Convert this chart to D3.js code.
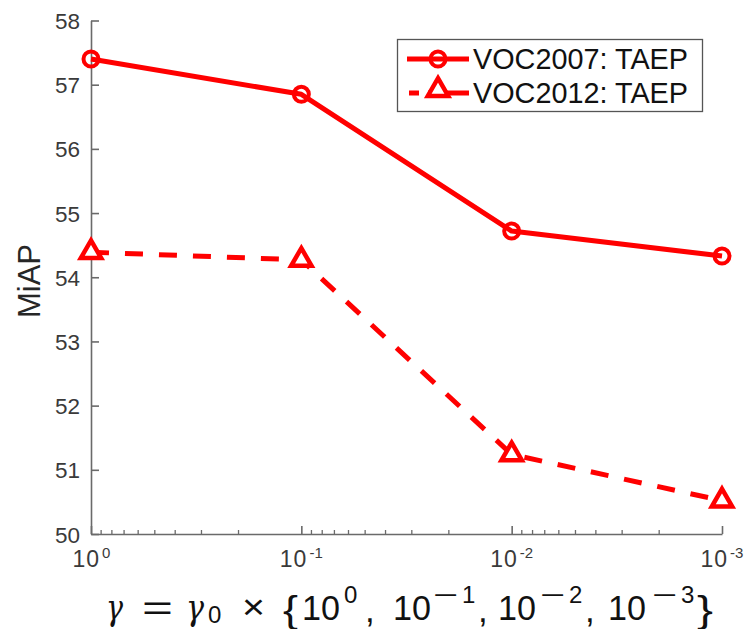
<!DOCTYPE html>
<html>
<head>
<meta charset="utf-8">
<script src="https://cdn.jsdelivr.net/npm/d3@7"></script>
<style>
  html, body { margin: 0; padding: 0; background: #fff; }
  svg { display: block; }
  text { font-family: "Liberation Sans", Arial, Helvetica, sans-serif; }
</style>
</head>
<body>
<svg id="chart" width="744" height="629"></svg>
<script>
// ---- data ----
const gammaFactors = [1, 0.1, 0.01, 0.001];
const tickExponents = ["0", "-1", "-2", "-3"];
const yTicks = [50, 51, 52, 53, 54, 55, 56, 57, 58];
const voc2007 = [57.40, 56.85, 54.72, 54.33];
const voc2012 = [54.39, 54.27, 51.24, 50.52];
const seriesNames = ["VOC2007: TAEP", "VOC2012: TAEP"];
const yLabel = "MiAP";
const formulaExponents = ["0", "1", "2", "3"];

const svg = d3.select("#chart");
const red = "#ff0000";
const axisColor = "#6a6a6a";
const labelColor = "#3a3a3a";

const x = d3.scaleLog().domain([1, 0.001]).range([91, 722]);
const y = d3.scaleLinear().domain([50, 58]).range([534, 20.5]);

// ---- y axis ----
const yAxis = svg.append("g").attr("transform", "translate(91,0)")
  .call(d3.axisLeft(y).tickValues(yTicks).tickSizeInner(-8).tickSizeOuter(0).tickPadding(11));
yAxis.select(".domain").attr("stroke", axisColor).attr("stroke-width", 1.6);
yAxis.selectAll(".tick line").attr("stroke", axisColor).attr("stroke-width", 1.6);
yAxis.selectAll(".tick text").attr("fill", labelColor)
  .style("font-size", "22.5px").attr("dy", "0.36em");

// ---- x axis: minor ticks ----
const minorVals = [];
for (let k = 0; k < 3; k++) {
  for (let m = 2; m <= 9; m++) minorVals.push(m * Math.pow(10, -(k + 1)));
}
const xMinor = svg.append("g").attr("transform", "translate(0,534)")
  .call(d3.axisBottom(x).tickValues(minorVals).tickSizeInner(-4).tickSizeOuter(0).tickFormat(""));
xMinor.select(".domain").remove();
xMinor.selectAll(".tick line").attr("stroke", axisColor).attr("stroke-width", 1.3);

// ---- x axis: major ----
const xAxis = svg.append("g").attr("transform", "translate(0,534)")
  .call(d3.axisBottom(x).tickValues(gammaFactors).tickSizeInner(-8).tickSizeOuter(0).tickFormat(() => ""));
xAxis.select(".domain").attr("stroke", axisColor).attr("stroke-width", 1.6);
xAxis.selectAll(".tick line").attr("stroke", axisColor).attr("stroke-width", 1.6);
xAxis.selectAll(".tick").each(function(d, i) {
  const t = d3.select(this).select("text")
    .attr("fill", labelColor).attr("y", 33).attr("dy", null)
    .attr("text-anchor", "start").attr("x", i === 0 ? -19 : -22);
  t.text(null);
  t.append("tspan").style("font-size", "23px").attr("letter-spacing", "1px").text("10");
  t.append("tspan").style("font-size", "15px").attr("dx", 2).attr("dy", -9).text(tickExponents[i]);
});

// ---- y label ----
svg.append("text")
  .attr("transform", "translate(40,281) rotate(-90)")
  .attr("text-anchor", "middle")
  .attr("fill", "#262626")
  .style("font-size", "31px")
  .text(yLabel);

// ---- lines ----
const lineGen = d3.line().x((d, i) => x(gammaFactors[i])).y(d => y(d));
svg.append("path").datum(voc2007)
  .attr("d", lineGen).attr("fill", "none").attr("stroke", red)
  .attr("stroke-width", 5).attr("stroke-linejoin", "round");
svg.append("path").datum(voc2012)
  .attr("d", lineGen).attr("fill", "none").attr("stroke", red)
  .attr("stroke-width", 5).attr("stroke-dasharray", "18,16");

// ---- markers ----
svg.selectAll("circle.m07").data(voc2007).enter().append("circle")
  .attr("class", "m07")
  .attr("cx", (d, i) => x(gammaFactors[i])).attr("cy", d => y(d))
  .attr("r", 7.5).attr("fill", "none").attr("stroke", red).attr("stroke-width", 4);

const tri = d3.symbol().type(d3.symbolTriangle).size(180);
svg.selectAll("path.m12").data(voc2012).enter().append("path")
  .attr("class", "m12")
  .attr("d", tri())
  .attr("transform", (d, i) => `translate(${x(gammaFactors[i])},${y(d)})`)
  .attr("fill", "#fff").attr("stroke", red).attr("stroke-width", 4.5).attr("stroke-linejoin", "miter");

// ---- legend ----
const lg = svg.append("g");
lg.append("rect").attr("x", 397.5).attr("y", 39.5).attr("width", 305).attr("height", 72)
  .attr("fill", "#fff").attr("stroke", "#555").attr("stroke-width", 1.3);
lg.append("line").attr("x1", 407).attr("x2", 469).attr("y1", 59).attr("y2", 59)
  .attr("stroke", red).attr("stroke-width", 5);
lg.append("circle").attr("cx", 438).attr("cy", 59).attr("r", 7.5)
  .attr("fill", "none").attr("stroke", red).attr("stroke-width", 4);
lg.append("line").attr("x1", 409).attr("x2", 469).attr("y1", 93).attr("y2", 93)
  .attr("stroke", red).attr("stroke-width", 5).attr("stroke-dasharray", "10,9,41");
lg.append("path").attr("d", tri()).attr("transform", "translate(438,90)")
  .attr("fill", "#fff").attr("stroke", red).attr("stroke-width", 4.5);
lg.selectAll("text.lt").data(seriesNames).enter().append("text")
  .attr("class", "lt")
  .attr("x", 473).attr("y", (d, i) => 59 + i * 34).attr("dy", "0.36em")
  .attr("fill", "#111").style("font-size", "28.8px").text(d => d);

// ---- x label (formula) ----
const fg = svg.append("g").attr("fill", "#111");
const serifIt = "'DejaVu Serif','Liberation Serif',serif";
function piece(str, px, py, size, opts) {
  const t = fg.append("text").attr("x", px).attr("y", py).style("font-size", size + "px").text(str);
  if (opts && opts.italic) t.style("font-family", serifIt).style("font-style", "italic");
  if (opts && opts.len) t.attr("textLength", opts.len).attr("lengthAdjust", "spacingAndGlyphs");
  return t;
}
const base = 620, supBase = 603;
piece("γ", 106, base, 35, { italic: true, len: 17 });
piece("=", 142, base, 35, { len: 31 });
piece("γ", 186, base, 35, { italic: true, len: 18 });
piece("0", 208, base + 3, 24);
piece("×", 242, base - 1, 35, { len: 23 });
piece("{", 283, base + 2, 36, { len: 15 });
const tenX = [302, 393, 498, 608];
const supX = [343, 433, 540, 652];
formulaExponents.forEach((e, i) => {
  piece("10", tenX[i], base, 35, { len: 38 });
  if (i === 0) {
    piece(e, supX[i] + 1, supBase, 24);
  } else {
    piece("−", supX[i], supBase, 24, { len: 25 });
    piece(e, supX[i] + 29, supBase, 24);
  }
  if (i < 3) piece(",", supX[i] + (i === 0 ? 22 : 45), base + 2, 35);
});
piece("}", 697, base + 2, 36, { len: 16 });
</script>
</body>
</html>
